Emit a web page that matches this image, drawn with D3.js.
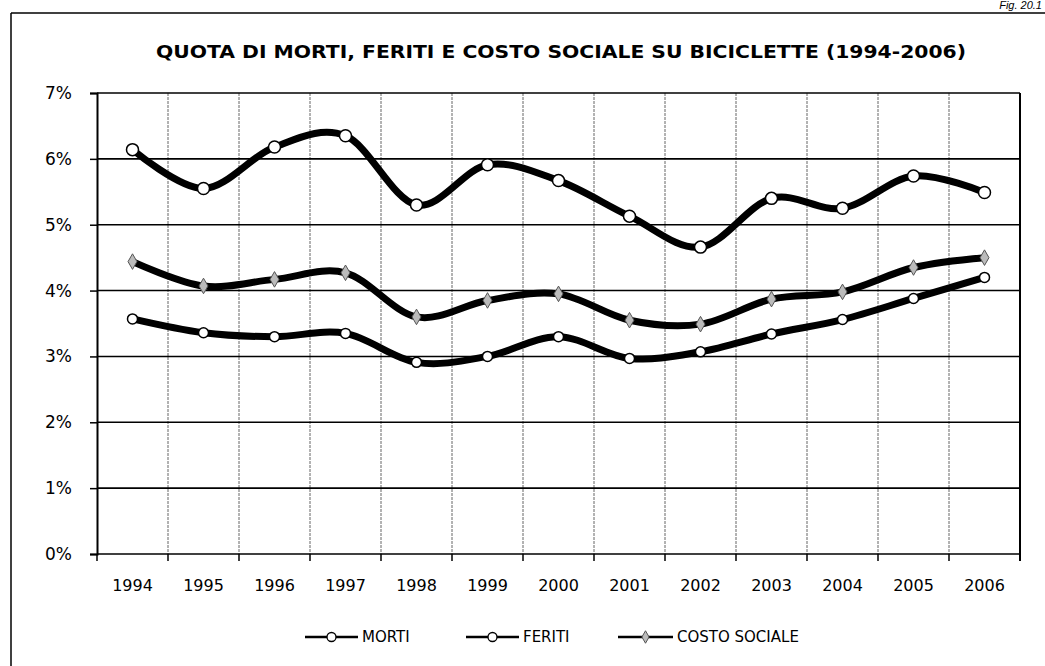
<!DOCTYPE html>
<html><head><meta charset="utf-8">
<script src="https://cdn.jsdelivr.net/npm/d3@7"></script>
<style>
body{margin:0;background:#fff;}
svg{display:block;}
</style></head>
<body>
<svg id="c" width="1045" height="666"></svg>
<script>
const years = ["1994","1995","1996","1997","1998","1999","2000","2001","2002","2003","2004","2005","2006"];
const morti = [3.57,3.36,3.30,3.35,2.91,3.00,3.30,2.97,3.07,3.34,3.56,3.88,4.20];
const feriti = [6.14,5.55,6.18,6.35,5.30,5.91,5.67,5.13,4.66,5.40,5.25,5.74,5.49];
const costoSociale = [4.44,4.07,4.17,4.27,3.60,3.85,3.95,3.55,3.49,3.87,3.98,4.35,4.50];
const yTicks = [0,1,2,3,4,5,6,7];
const seriesNames = ["MORTI","FERITI","COSTO SOCIALE"];
const title = "QUOTA DI MORTI, FERITI E COSTO SOCIALE SU BICICLETTE (1994-2006)";

const FONT = "'Century Gothic','URW Gothic','URW Gothic L','DejaVu Sans',sans-serif";
const svg = d3.select("#c");
const m = {left:97, right:1020, top:93, bottom:554};

const x = d3.scaleBand().domain(years).range([m.left, m.right]).padding(0);
const y = d3.scaleLinear().domain([0,7]).range([m.bottom, m.top]);
const cx = d => x(d) + x.bandwidth()/2;

// outer frame
svg.append("line").attr("x1",11).attr("x2",1045).attr("y1",13).attr("y2",13).attr("stroke","#000").attr("stroke-width",1.5);
svg.append("line").attr("x1",11).attr("x2",11).attr("y1",13).attr("y2",666).attr("stroke","#000").attr("stroke-width",1.5);

// Fig label
svg.append("text").attr("x",1042).attr("y",9).attr("text-anchor","end")
  .attr("font-family","'Liberation Sans',Arial,sans-serif")
  .attr("font-style","italic").attr("font-size",11).text("Fig. 20.1");

// title
svg.append("text").attr("x",(156+966)/2).attr("y",58).attr("text-anchor","middle")
  .attr("font-family",FONT).attr("font-weight","bold").attr("font-size",18)
  .attr("textLength",810).attr("lengthAdjust","spacingAndGlyphs").text(title);

// vertical grid (band boundaries)
const bounds = years.map(d => x(d)).slice(1);
svg.append("g").selectAll("line").data(bounds).join("line")
  .attr("x1",d=>d).attr("x2",d=>d).attr("y1",m.top).attr("y2",m.bottom)
  .attr("stroke","#666").attr("stroke-width",1).attr("stroke-dasharray","3,1");

// horizontal grid
svg.append("g").selectAll("line").data(yTicks).join("line")
  .attr("x1",m.left).attr("x2",m.right).attr("y1",d=>y(d)).attr("y2",d=>y(d))
  .attr("stroke","#000").attr("stroke-width",1.6);

// y axis
const yAxis = svg.append("g").attr("transform",`translate(${m.left},0)`)
  .call(d3.axisLeft(y).tickValues(yTicks).tickFormat(d=>d+"%").tickSize(7).tickPadding(18));
yAxis.select(".domain").attr("stroke","#000").attr("stroke-width",2);
yAxis.selectAll(".tick line").attr("stroke","#000").attr("stroke-width",1.5);
yAxis.selectAll("text").attr("font-family",FONT).attr("font-size",17).attr("fill","#000");

// right border
svg.append("line").attr("x1",m.right).attr("x2",m.right).attr("y1",m.top).attr("y2",m.bottom+7)
  .attr("stroke","#000").attr("stroke-width",2);

// x axis
const xAxis = svg.append("g").attr("transform",`translate(0,${m.bottom})`)
  .call(d3.axisBottom(x).tickSize(0).tickPadding(26));
xAxis.select(".domain").remove();
xAxis.selectAll("text").attr("font-family",FONT).attr("font-size",16).attr("fill","#000");
svg.append("g").selectAll("line").data(years.map(d=>x(d)).concat([m.right])).join("line")
  .attr("x1",d=>d).attr("x2",d=>d).attr("y1",m.bottom).attr("y2",m.bottom+7)
  .attr("stroke","#000").attr("stroke-width",1.5);

// lines
const line = d3.line().x((d,i)=>cx(years[i])).y(d=>y(d)).curve(d3.curveCardinal.tension(0));
const allSeries = [feriti, costoSociale, morti];
svg.append("g").selectAll("path").data(allSeries).join("path")
  .attr("d",line).attr("fill","none").attr("stroke","#000").attr("stroke-width",7)
  .attr("stroke-linejoin","round").attr("stroke-linecap","round");

// markers
svg.append("g").selectAll("circle").data(feriti).join("circle")
  .attr("cx",(d,i)=>cx(years[i])).attr("cy",d=>y(d)).attr("r",6)
  .attr("fill","#fff").attr("stroke","#000").attr("stroke-width",1.5);
svg.append("g").selectAll("circle").data(morti).join("circle")
  .attr("cx",(d,i)=>cx(years[i])).attr("cy",d=>y(d)).attr("r",5)
  .attr("fill","#fff").attr("stroke","#000").attr("stroke-width",1.5);
const diamond = d3.symbol().type(d3.symbolDiamond).size(70);
svg.append("g").selectAll("path").data(costoSociale).join("path")
  .attr("transform",(d,i)=>`translate(${cx(years[i])},${y(d)})`).attr("d",diamond)
  .attr("fill","#bbb").attr("stroke","#555").attr("stroke-width",1);

// legend
const legY = 637;
const legItems = [
  {name:seriesNames[0], x0:305, x1:358, mk:"c"},
  {name:seriesNames[1], x0:466, x1:519, mk:"c"},
  {name:seriesNames[2], x0:618, x1:673, mk:"d"}
];
const lg = svg.append("g");
legItems.forEach(it=>{
  lg.append("line").attr("x1",it.x0).attr("x2",it.x1).attr("y1",legY).attr("y2",legY)
    .attr("stroke","#000").attr("stroke-width",2.5);
  const mx=(it.x0+it.x1)/2;
  if(it.mk==="c"){
    lg.append("circle").attr("cx",mx).attr("cy",legY).attr("r",4.5).attr("fill","#fff").attr("stroke","#000").attr("stroke-width",1.3);
  } else {
    lg.append("path").attr("transform",`translate(${mx},${legY})`).attr("d",d3.symbol().type(d3.symbolDiamond).size(45))
      .attr("fill","#bbb").attr("stroke","#555").attr("stroke-width",1);
  }
  lg.append("text").attr("x",it.x1+4).attr("y",legY).attr("dy","0.35em")
    .attr("font-family",FONT).attr("font-size",15).text(it.name);
});
</script>
</body></html>
